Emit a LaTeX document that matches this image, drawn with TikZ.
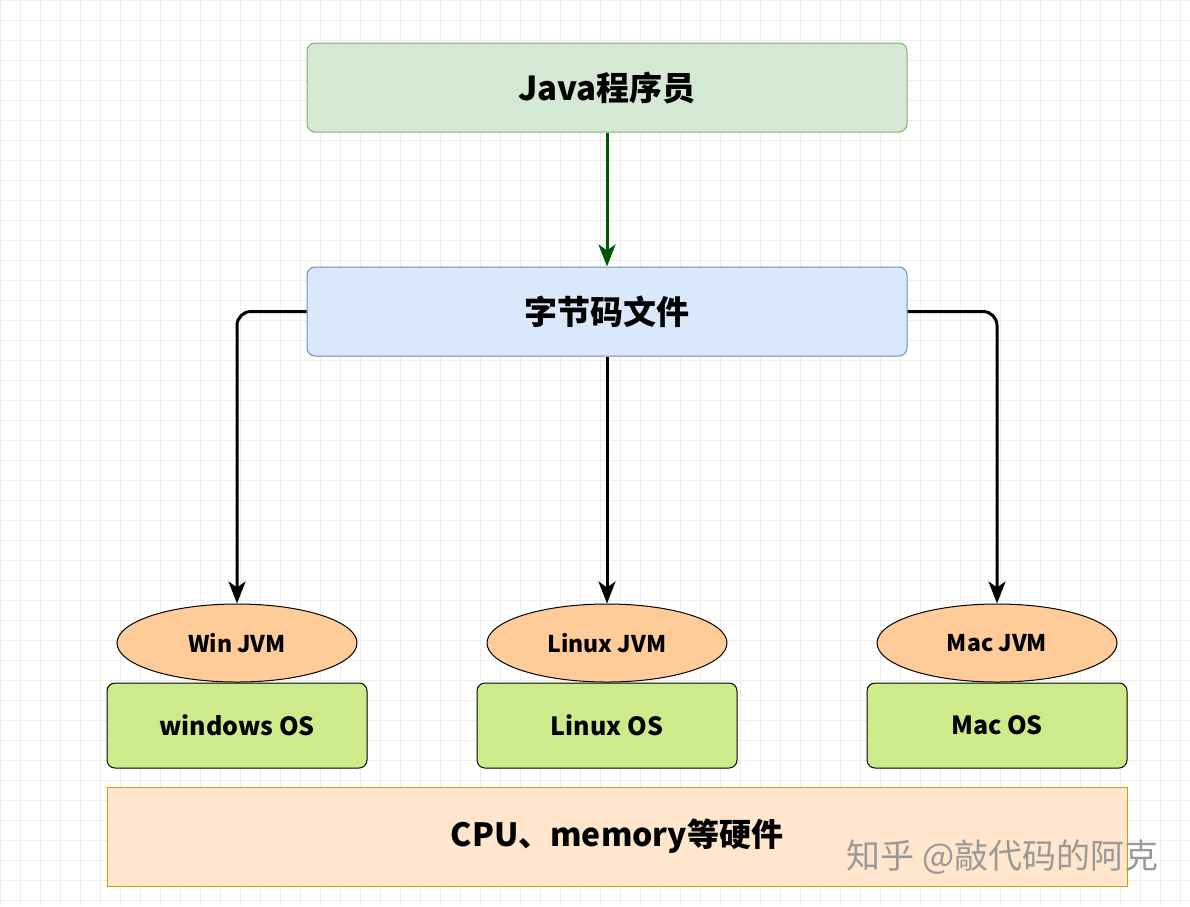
\documentclass[tikz,border=0pt]{standalone}
\usepackage{fontspec}
\setmainfont{Noto Sans CJK SC}
\usetikzlibrary{arrows.meta,shapes.geometric}
\definecolor{gA}{HTML}{D5E8D4}\definecolor{gAs}{HTML}{82B366}
\definecolor{bA}{HTML}{DAE8FC}\definecolor{bAs}{HTML}{6C8EBF}
\definecolor{pk}{HTML}{FFCC99}\definecolor{os}{HTML}{CDEB8B}
\definecolor{hw}{HTML}{FFE6CC}\definecolor{hws}{HTML}{D79B00}
\definecolor{dg}{HTML}{005700}
\begin{document}
\begin{tikzpicture}[x=1pt,y=-1pt,
 box/.style={draw,rounded corners=8pt,line width=1pt,inner sep=0pt},
 arr/.style={line width=3pt,-{Stealth[length=22pt,width=17pt,inset=6pt]},rounded corners=14pt}]
\useasboundingbox (0,0) rectangle (1190,906);
\fill[white] (0,0) rectangle (1190,906);
\foreach \i in {0,20,...,1190} \draw[black!7,line width=0.6pt] (\i,0)--(\i,906);
\foreach \i in {0,20,...,906} \draw[black!7,line width=0.6pt] (0,\i)--(1190,\i);
\node[box,fill=gA,draw=gAs,minimum width=600pt,minimum height=89pt,font=\fontsize{33}{38}\selectfont\bfseries] (java) at (607,87.5) {Java程序员};
\node[box,fill=bA,draw=bAs,minimum width=600pt,minimum height=89pt,font=\fontsize{33}{38}\selectfont\bfseries] (bc) at (607,311.5) {字节码文件};
\foreach \n/\x/\t/\o in {win/237/Win JVM/windows OS,lin/607/Linux JVM/Linux OS,mac/997/Mac JVM/Mac OS}{
 \node[draw,ellipse,fill=pk,line width=1pt,minimum width=240pt,minimum height=78pt,inner sep=0pt,font=\fontsize{23}{27}\selectfont\bfseries] (\n) at (\x,643) {\t};
 \node[box,fill=os,minimum width=260pt,minimum height=85pt,font=\fontsize{25}{30}\selectfont\bfseries] (\n os) at (\x,725.5) {\o};
}
\node[draw=hws,fill=hw,line width=1pt,minimum width=1020pt,minimum height=99pt,inner sep=0pt,font=\fontsize{32}{38}\selectfont\bfseries] (hw) at (617,836.5) {CPU、memory等硬件};
\node[text=black!40,font=\fontsize{34}{40}\selectfont,anchor=east] (wm) at (1162,857) {知乎 @敲代码的阿克};
\draw[arr,draw=dg] (java.south) -- (bc.north);
\draw[arr] (bc.west) -| (win.north);
\draw[arr] (bc.south) -- (lin.north);
\draw[arr] (bc.east) -| (mac.north);
\end{tikzpicture}
\end{document}
